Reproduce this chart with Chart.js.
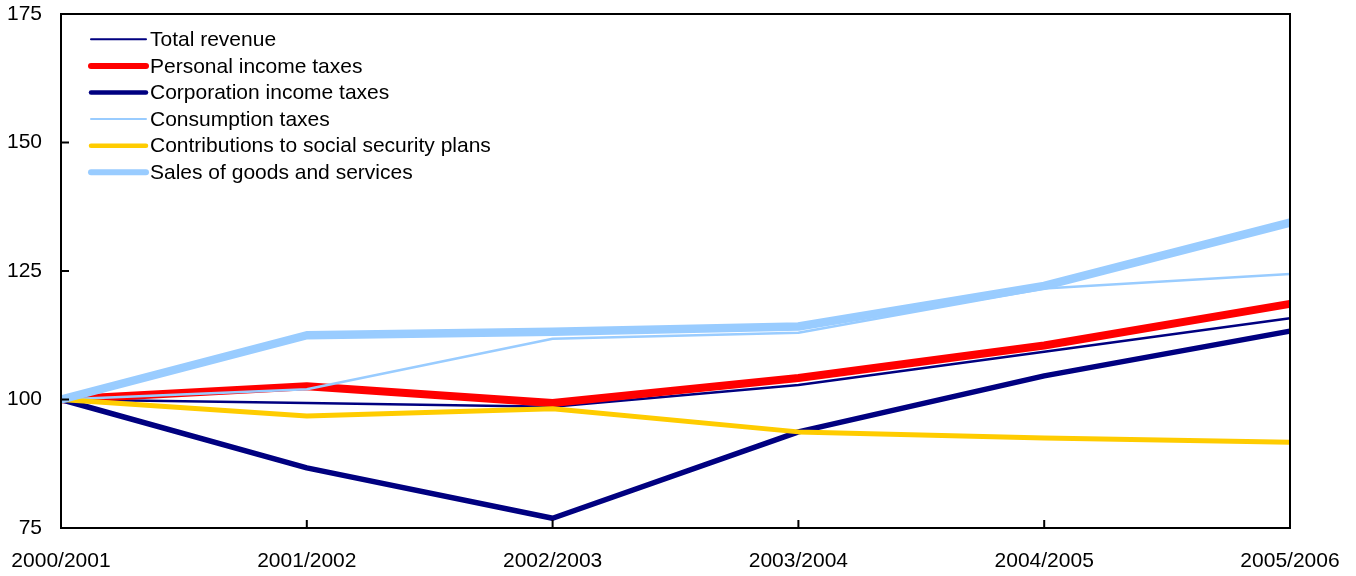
<!DOCTYPE html>
<html>
<head>
<meta charset="utf-8">
<title>Revenue by source, index 2000/2001 = 100</title>
<script src="https://cdn.jsdelivr.net/npm/chart.js@4.4.0/dist/chart.umd.min.js"></script>
<style>
    html, body { margin: 0; padding: 0; background: #fff; }
    #chart-wrap { width: 1356px; height: 576px; }
</style>
</head>
<body>
<div id="chart-wrap"><canvas id="revenue-chart" width="1356" height="576"></canvas></div>
<script>
// Revenue index by source (2000/2001 = 100)

const fiscalYears = ['2000/2001', '2001/2002', '2002/2003', '2003/2004', '2004/2005', '2005/2006'];
const totalRevenue = [100, 99.3, 98.6, 102.8, 109.3, 115.8];
const personalIncomeTaxes = [100, 102.6, 99.3, 104.2, 110.5, 118.6];
const corporationIncomeTaxes = [100, 86.7, 76.9, 93.7, 104.6, 113.3];
const consumptionTaxes = [100, 102.0, 111.8, 113.0, 121.6, 124.4];
const socialSecurityContributions = [100, 96.8, 98.2, 93.7, 92.5, 91.7];
const salesOfGoodsAndServices = [100, 112.5, 113.2, 114.2, 122.1, 134.4];
const yTickValues = [75, 100, 125, 150, 175];

const FONT_FAMILY = '"Liberation Sans", Arial, sans-serif';
const NAVY = '#000080';
const RED = '#ff0000';
const LIGHT_BLUE = '#99ccff';
const GOLD = '#ffcc00';

Chart.defaults.font.family = FONT_FAMILY;
Chart.defaults.font.size = 21;
Chart.defaults.color = '#000';

/**
 * Legend drawn inside the plot, top-left, one series per row
 */
const insideLegend = {
    id: 'insideLegend',
    afterDatasetsDraw(chart) {
        const ctx = chart.ctx;
        const { left, top } = chart.chartArea;

        ctx.save();
        ctx.font = `21px ${FONT_FAMILY}`;
        ctx.textBaseline = 'middle';
        ctx.fillStyle = '#000';
        ctx.lineCap = 'round';

        chart.data.datasets.forEach((ds, i) => {
            const y = top + 25.3 + i * 26.6;
            ctx.strokeStyle = ds.borderColor;
            ctx.lineWidth = ds.legendWidth;
            ctx.beginPath();
            ctx.moveTo(left + 30, y);
            ctx.lineTo(left + 85, y);
            ctx.stroke();
            ctx.fillText(ds.label, left + 89, y + 1);
        });

        ctx.restore();
    }
};

/**
 * Box around the plot area plus inward tick marks
 */
const frameTicks = {
    id: 'frameTicks',
    afterDraw(chart) {
        const { ctx, chartArea: a, scales: { x, y } } = chart;

        ctx.save();
        ctx.strokeStyle = '#000';
        ctx.lineWidth = 2;
        ctx.strokeRect(a.left, a.top, a.right - a.left, a.bottom - a.top);

        ctx.beginPath();
        x.ticks.forEach((t, i) => {
            const px = x.getPixelForTick(i);
            ctx.moveTo(px, a.bottom);
            ctx.lineTo(px, a.bottom - 8);
        });
        y.ticks.forEach((t, i) => {
            const py = y.getPixelForTick(i);
            ctx.moveTo(a.left, py);
            ctx.lineTo(a.left + 8, py);
        });
        ctx.stroke();
        ctx.restore();
    }
};

/**
 * Build one line series; lower order draws on top
 */
function makeSeries(label, data, color, width, legendWidth, order) {
    return {
        label: label,
        data: data,
        borderColor: color,
        backgroundColor: color,
        borderWidth: width,
        legendWidth: legendWidth,
        borderJoinStyle: 'round',
        pointRadius: 0,
        pointHoverRadius: 0,
        tension: 0,
        fill: false,
        order: order
    };
}

const ctx = document.getElementById('revenue-chart').getContext('2d');

new Chart(ctx, {
    type: 'line',
    data: {
        labels: fiscalYears,
        datasets: [
            makeSeries('Total revenue', totalRevenue, NAVY, 2.5, 2, 6),
            makeSeries('Personal income taxes', personalIncomeTaxes, RED, 8, 6, 5),
            makeSeries('Corporation income taxes', corporationIncomeTaxes, NAVY, 5.5, 4.5, 4),
            makeSeries('Consumption taxes', consumptionTaxes, LIGHT_BLUE, 2.5, 2, 3),
            makeSeries('Contributions to social security plans', socialSecurityContributions, GOLD, 5, 4.5, 2),
            makeSeries('Sales of goods and services', salesOfGoodsAndServices, LIGHT_BLUE, 8.5, 6, 1)
        ]
    },
    options: {
        responsive: false,
        animation: false,
        layout: {
            padding: { top: 14, right: 66, left: 0, bottom: 0 }
        },
        plugins: {
            legend: { display: false },
            tooltip: { enabled: false }
        },
        scales: {
            x: {
                offset: false,
                grid: { display: false },
                border: { display: false },
                ticks: {
                    padding: 13,
                    maxRotation: 0,
                    autoSkip: false
                },
                afterFit: scale => {
                    scale.height = 48;
                    scale.paddingLeft = 0;
                    scale.paddingRight = 0;
                }
            },
            y: {
                min: 75,
                max: 175,
                grid: { display: false },
                border: { display: false },
                ticks: { padding: 11 },
                afterBuildTicks: scale => {
                    scale.ticks = yTickValues.map(v => ({ value: v }));
                },
                afterFit: scale => {
                    scale.width = 61;
                    scale.paddingTop = 0;
                    scale.paddingBottom = 0;
                }
            }
        }
    },
    plugins: [insideLegend, frameTicks]
});
</script>
</body>
</html>
